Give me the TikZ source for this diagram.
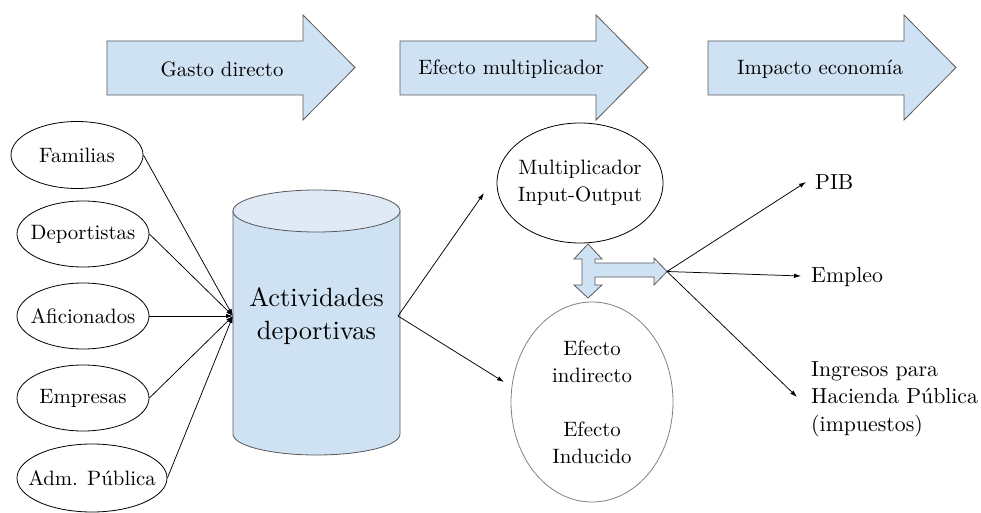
\documentclass[tikz,border=0pt]{standalone}
\usepackage{fontspec}
\setmainfont{lmroman10-regular.otf}
\usetikzlibrary{shapes.geometric,arrows.meta}
\definecolor{boxblue}{HTML}{CFE2F3}
\definecolor{topblue}{HTML}{DFEAF6}
\definecolor{edgegray}{HTML}{595959}
\definecolor{softgray}{HTML}{808080}
\begin{document}
\begin{tikzpicture}[x=1pt,y=-1pt,
 lbl/.style={font=\rmfamily\fontsize{20.8}{27}\selectfont, align=center, inner sep=0pt, text=black},
 biglbl/.style={font=\rmfamily\fontsize{26.4}{33}\selectfont, align=center, inner sep=0pt},
 outlbl/.style={font=\rmfamily\fontsize{21.8}{27.5}\selectfont, align=left, inner sep=0pt},
 oval/.style={ellipse, draw=black, line width=0.8pt, inner sep=0pt},
 bigarrow/.style={fill=boxblue, draw=edgegray, line width=0.8pt, line join=miter},
 conn/.style={draw=black, line width=0.75pt},
 arr/.style={-{Latex[length=7pt,width=4.5pt]}}
]
\useasboundingbox (0,0) rectangle (981,513);

% phase arrows
\foreach \dx/\txt/\tx [count=\i] in {0/Gasto directo/222, 293/Efecto multiplicador/511, 601/Impacto economía/820} {
  \begin{scope}[shift={(\dx,0)}]
    \draw[bigarrow] (107,41) -- (303,41) -- (303,15) -- (355,67.5) -- (303,120) -- (303,95) -- (107,95) -- cycle;
  \end{scope}
  \node[lbl] (phase\i) at (\tx,69) {\txt};
}

% sources
\node[oval, minimum width=132pt, minimum height=67pt, label={[lbl]center:Familias}] (fam) at (77,155) {};
\node[oval, minimum width=132pt, minimum height=66pt, label={[lbl]center:Deportistas}] (dep) at (83,234) {};
\node[oval, minimum width=132pt, minimum height=66pt, label={[lbl]center:Aficionados}] (afi) at (83,316) {};
\node[oval, minimum width=132pt, minimum height=66pt, label={[lbl]center:Empresas}] (emp) at (83,398) {};
\node[oval, minimum width=150pt, minimum height=68pt, label={[lbl]center:Adm. Pública}] (adm) at (92,478) {};

\coordinate (conv) at (233,316);
\foreach \n in {fam,dep,afi,emp,adm} \draw[conn,arr] (\n.east) -- (conv);

% cylinder
\path[fill=boxblue, draw=edgegray, line width=0.8pt] (233,211) -- (233,434)
  arc[start angle=180, end angle=360, x radius=83.5pt, y radius=21pt] -- (400,211) -- cycle;
\draw[fill=topblue, draw=edgegray, line width=0.8pt] (316.5,211) ellipse [x radius=83.5pt, y radius=21pt];
\node[biglbl] (act) at (316.5,316) {Actividades\\deportivas};
\coordinate (cylout) at (398,316);

% multiplier ellipses
\node[oval, minimum width=166pt, minimum height=120pt, label={[lbl]center:{Multiplicador\\Input-Output}}] (mult) at (580,183) {};
\node[oval, draw=softgray, minimum width=162pt, minimum height=200pt, label={[lbl]center:{Efecto\\indirecto\\[27pt]Efecto\\Inducido}}] (efe) at (592,402) {};

\coordinate (multend) at (484,193);
\coordinate (efeend) at (504,382);
\draw[conn,arr] (cylout) -- (multend);
\draw[conn,arr] (cylout) -- (efeend);

% block arrow
\draw[bigarrow] (588,244) -- (602,259) -- (595,259) -- (595,263) -- (654,263) -- (654,258) -- (667,271.5)
  -- (654,285) -- (654,277) -- (595,277) -- (595,285) -- (602,285) -- (588,298) -- (574,285)
  -- (582,285) -- (582,259) -- (574,259) -- cycle;
\coordinate (hub) at (667,271.5);

% outcomes
\node[outlbl, anchor=west] (pib) at (815,182.5) {PIB};
\node[outlbl, anchor=west] (empleo) at (811,277.5) {Empleo};
\node[outlbl, anchor=west] (ingr) at (811,399) {Ingresos para\\Hacienda Pública\\(impuestos)};

\coordinate (pibend) at (806,182);
\coordinate (empend) at (801,276);
\coordinate (ingend) at (797,397);
\draw[conn,arr] (hub) -- (pibend);
\draw[conn,arr] (hub) -- (empend);
\draw[conn,arr] (hub) -- (ingend);
\end{tikzpicture}
\end{document}
